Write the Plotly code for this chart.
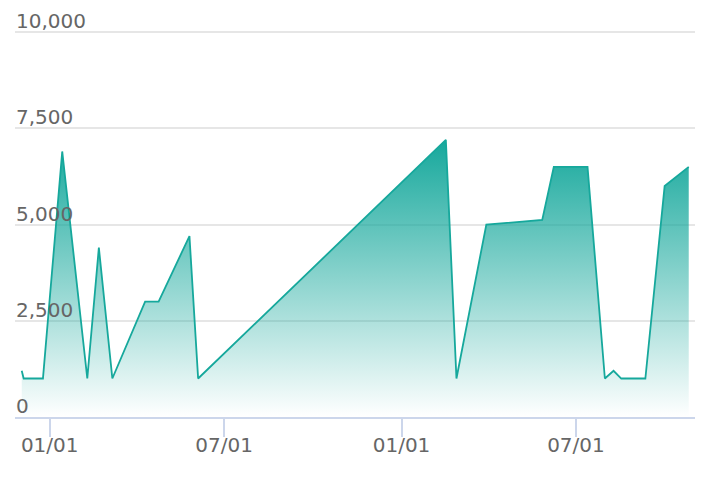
import plotly.graph_objects as go

dates = [
    "2017-12-03", "2017-12-05", "2017-12-25", "2018-01-14", "2018-02-09",
    "2018-02-21", "2018-03-07", "2018-04-10", "2018-04-24", "2018-05-26",
    "2018-06-04", "2019-02-16", "2019-02-27", "2019-03-30", "2019-05-27",
    "2019-06-08", "2019-07-13", "2019-07-31", "2019-08-09", "2019-08-17",
    "2019-09-11", "2019-10-01", "2019-10-26",
]
values = [
    1200, 1000, 1000, 6900, 1000,
    4400, 1000, 3000, 3000, 4700,
    1000, 7200, 1000, 5000, 5120,
    6500, 6500, 1000, 1200, 1000,
    1000, 6000, 6500,
]
x_tick_vals = ["2018-01-01", "2018-07-01", "2019-01-01", "2019-07-01"]
x_tick_text = ["01/01", "07/01", "01/01", "07/01"]
y_tick_vals = [0, 2500, 5000, 7500, 10000]
y_tick_text = ["0", "2,500", "5,000", "7,500", "10,000"]

LINE = "#16a89c"

fig = go.Figure()
fig.add_trace(go.Scatter(
    x=dates, y=values, mode="lines",
    line=dict(color=LINE, width=1.8),
    fill="tozeroy",
    fillgradient=dict(
        type="vertical",
        start=0, stop=7200,
        colorscale=[[0, "rgba(22,168,156,0.0)"], [1, "rgba(22,168,156,1.0)"]],
    ),
    hoverinfo="skip",
))

font = dict(family="DejaVu Sans", size=20, color="#666666")

for v, t in zip(y_tick_vals, y_tick_text):
    fig.add_annotation(
        x=0, xref="paper", xanchor="left", xshift=0,
        y=v, yref="y", yanchor="bottom", yshift=-2,
        text=t, showarrow=False, font=font, borderpad=0,
    )

fig.update_layout(
    width=710, height=478,
    margin=dict(l=7, r=23, t=23, b=69),
    paper_bgcolor="white", plot_bgcolor="white",
    showlegend=False,
    font=font,
    xaxis=dict(
        type="date",
        range=["2017-11-26", "2019-11-01 12:00"],
        tickvals=x_tick_vals, ticktext=x_tick_text,
        ticks="outside", ticklen=18, tickwidth=1.5, tickcolor="#ccd6eb",
        ticklabelstandoff=-9,
        showline=True, linecolor="#ccd6eb", linewidth=1.7,
        showgrid=False, zeroline=False,
        tickfont=font,
    ),
    yaxis=dict(
        range=[0, 10030],
        tickvals=y_tick_vals, showticklabels=False,
        showgrid=True, gridcolor="#e6e6e6", gridwidth=1.5,
        zeroline=False, showline=False, ticks="",
    ),
)

fig.write_html("out.html")
